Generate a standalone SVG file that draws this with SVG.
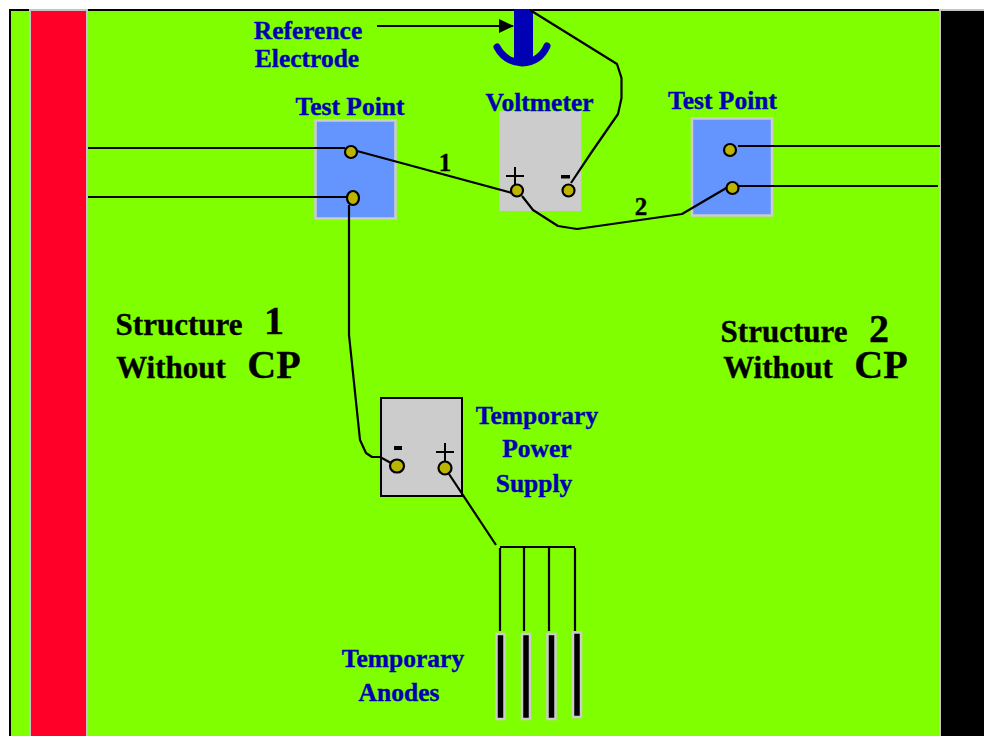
<svg xmlns="http://www.w3.org/2000/svg" width="984" height="736" viewBox="0 0 984 736">
<style>
.lb{font-family:"Liberation Serif",serif;font-weight:bold;fill:#0000b4;stroke:#0000b4;stroke-width:.35;font-size:25.500px;text-anchor:middle}
.bk{font-family:"Liberation Serif",serif;font-weight:bold;fill:#000;stroke:#000;stroke-width:.35;text-anchor:middle}
.w{fill:none;stroke:#000;stroke-width:2.200;stroke-linejoin:round}
.t{fill:#bdb400;stroke:#000;stroke-width:2.200}
.bar{fill:#000;stroke:#ccc;stroke-width:2.500}
.sign{fill:none;stroke:#000;stroke-width:2}
</style>
<defs><marker id="ah" markerWidth="15" markerHeight="14" refX="14" refY="7" orient="auto" markerUnits="userSpaceOnUse"><path d="M0 0L15 7L0 14Z" fill="#000"/></marker></defs>
<rect width="984" height="736" fill="#fff"/>
<g id="background"><rect x="10" y="10" width="984" height="736" fill="#7fff00" stroke="#000" stroke-width="2"/></g>
<g id="structure-1"><rect x="30" y="10" width="57" height="737" fill="#ff0029" stroke="#c4c4c4" stroke-width="2"/>
<text class="bk" x="179" y="335" font-size="31">Structure</text><text class="bk" x="274" y="334" font-size="40">1</text>
<text class="bk" x="171" y="378" font-size="31">Without</text><text class="bk" x="274" y="378" font-size="40">CP</text></g>
<g id="structure-2"><rect x="940" y="10" width="55" height="737" fill="#000" stroke="#c4c4c4" stroke-width="2"/>
<text class="bk" x="784" y="342" font-size="31">Structure</text><text class="bk" x="879" y="342" font-size="40">2</text>
<text class="bk" x="778" y="378" font-size="31">Without</text><text class="bk" x="881" y="378" font-size="40">CP</text></g>
<g id="reference-electrode">
<path d="M523.500 9V64" stroke="#0000b4" stroke-width="19" fill="none"/>
<path d="M497 47Q505 62 522 63Q540 62 547 46" stroke="#0000b4" stroke-width="7" stroke-linecap="round" fill="none"/>
<text class="lb" x="308" y="39">Reference</text><text class="lb" x="307" y="67">Electrode</text></g>
<g id="test-point-1"><rect x="315.500" y="120.500" width="80" height="98" fill="#6495ff" stroke="#ccc" stroke-width="2.500"/>
<text class="lb" x="350" y="115">Test Point</text></g>
<g id="voltmeter"><rect x="499.500" y="111" width="82" height="100" fill="#ccc"/>
<text class="lb" x="539.500" y="111">Voltmeter</text>
<path class="sign" d="M506 176H524M515 167V185"/><rect x="561" y="175" width="9" height="3.500" fill="#000"/></g>
<g id="test-point-2"><rect x="692" y="118.500" width="80" height="97" fill="#6495ff" stroke="#ccc" stroke-width="2.500"/>
<text class="lb" x="722.500" y="109">Test Point</text></g>
<g id="power-supply"><rect x="381" y="398" width="81" height="98" fill="#ccc" stroke="#000" stroke-width="2"/>
<rect x="394" y="446" width="8" height="4" fill="#000"/><path class="sign" d="M436 452H454M445 443V461"/>
<text class="lb" x="537" y="424">Temporary</text><text class="lb" x="537" y="457">Power</text><text class="lb" x="534" y="492">Supply</text></g>
<g id="temporary-anodes">
<rect class="bar" x="496.500" y="634" width="8" height="85"/><rect class="bar" x="522" y="634" width="8" height="85"/><rect class="bar" x="547.500" y="634" width="8" height="85"/><rect class="bar" x="573" y="632.500" width="8" height="84.500"/>
<text class="lb" x="403" y="667">Temporary</text><text class="lb" x="399" y="701">Anodes</text></g>
<g id="connectors">
<path class="w" marker-end="url(#ah)" d="M377 26H513"/>
<path class="w" d="M88 148H345M88 197H347M738 146H940M739 186H938"/>
<path class="w" d="M357 151L512 193"/>
<path class="w" d="M522 196L533 210L558 226L577 229L682 214L728 187"/>
<path class="w" d="M530 10L617 64L621.500 78V98L618 114L591 153L571 183"/>
<path class="w" d="M349 205V335L360 440L366 453L372 457H380L391 463"/>
<path class="w" d="M449 474L496 545"/>
<path class="w" d="M500 547H575M500 548V631M524 548V631M549 548V631M575 548V631"/>
<text class="bk" x="445" y="171" font-size="25">1</text><text class="bk" x="641" y="215" font-size="25">2</text>
</g>
<g id="terminals">
<ellipse class="t" cx="351" cy="152" rx="6" ry="6"/><ellipse class="t" cx="353" cy="198" rx="6" ry="7"/>
<circle class="t" cx="517" cy="190.500" r="6"/><circle class="t" cx="568.500" cy="190.500" r="6"/>
<circle class="t" cx="730" cy="150" r="6"/><circle class="t" cx="732.500" cy="188" r="6"/>
<ellipse class="t" cx="397" cy="466" rx="7" ry="6.500"/><circle class="t" cx="445" cy="468" r="6.500"/>
</g>
</svg>
